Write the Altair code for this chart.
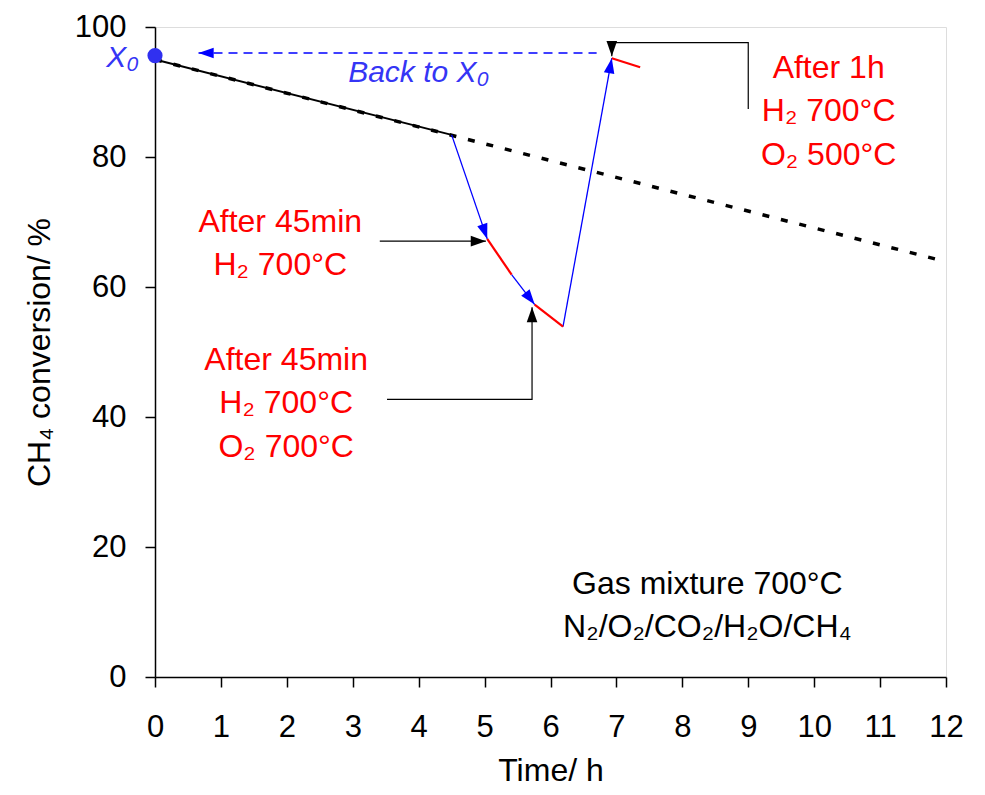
import math
import altair as alt
import pandas as pd

# ---------------- data ----------------
# extrapolated deactivation trend (dashed black)
trend_t = [0.0, 12.0]
trend_x = [95.0, 63.9]
# measured initial deactivation (solid black)
base_t = [0.0, 4.5]
base_x = [95.0, 83.4]
# regeneration path: "step" = jump after a treatment (blue), "run" = operation afterwards (red)
path_t = [4.5, 5.04, 5.41, 5.76, 6.19, 6.93, 7.36]
path_x = [83.4, 67.4, 61.9, 57.3, 53.9, 95.2, 93.8]
path_kind = ["step", "run", "step", "run", "step", "run"]
# initial conversion X0
x0_t = [0.0]
x0_x = [95.6]
# "Back to X0" dashed arrow (start, tip)
back_t = [6.70, 0.66]
back_x = [96.0, 96.0]
# black call-out connectors (polylines, last point = arrow tip)
conn_id = [1, 1, 2, 2, 2, 3, 3, 3, 3]
conn_t = [3.41, 5.02, 3.52, 5.72, 5.72, 9.0, 9.0, 6.93, 6.93]
conn_x = [67.05, 67.05, 42.7, 42.7, 56.9, 87.4, 97.6, 97.6, 95.5]
# red treatment labels
label_text = ["After 45min", "H₂ 700°C",
              "After 45min", "H₂ 700°C", "O₂ 700°C",
              "After 1h", "H₂ 700°C", "O₂ 500°C"]
label_t = [1.90, 1.90, 1.99, 1.99, 1.99, 10.22, 10.22, 10.22]
label_x = [68.5, 61.9, 47.2, 40.6, 33.8, 92.1, 85.5, 78.7]
# gas mixture note
gas_text = ["Gas mixture 700°C", "N₂/O₂/CO₂/H₂O/CH₄"]
gas_t = [8.38, 8.38]
gas_x = [12.8, 6.1]
# blue notes
blue_text = ["X₀", "Back to X₀"]
blue_t = [-0.74, 2.93]
blue_x = [93.9, 91.6]
# axis ticks
x_ticks = list(range(0, 13))
y_ticks = [0, 20, 40, 60, 80, 100]

# ---------------- chart ----------------
W, H = 791, 650
FONT = "Liberation Sans"
BLUE = "#0000FF"
TXT_BLUE = "#3535F5"
RED = "#FF0000"
PX_T = W / 12.0
PX_X = H / 100.0

xs = alt.Scale(domain=[0, 12], nice=False, zero=False)
ys = alt.Scale(domain=[0, 100], nice=False, zero=False)

x_axis = alt.Axis(values=x_ticks, title="Time/ h", grid=False,
                  domainColor="black", domainWidth=1.5, tickColor="black",
                  tickWidth=1.5, tickSize=10, labelFontSize=31, labelFont=FONT,
                  labelColor="black", labelPadding=25, labelFlush=False,
                  labelOverlap=False, titleFontSize=32, titleFont=FONT,
                  titleFontWeight="normal", titleColor="black",
                  titleBaseline="alphabetic", titleY=103)
y_axis = alt.Axis(values=y_ticks, title="CH₄ conversion/ %", grid=False,
                  domainColor="black", domainWidth=1.5, tickColor="black",
                  tickWidth=1.5, tickSize=10, labelFontSize=31, labelFont=FONT,
                  labelColor="black", labelPadding=19, labelFlush=False,
                  labelOverlap=False, titleFontSize=32, titleFont=FONT,
                  titleFontWeight="normal", titleColor="black",
                  titleBaseline="alphabetic", titleAngle=270, titleX=-106)


def X(f="t"):
    return alt.X(f"{f}:Q", scale=xs, axis=x_axis)


def Y(f="v"):
    return alt.Y(f"{f}:Q", scale=ys, axis=y_axis)


def heading(t0, v0, t1, v1):
    vx = (t1 - t0) * PX_T
    vy = -(v1 - v0) * PX_X
    return math.degrees(math.atan2(vx, -vy)) % 360


# data frames
trend_df = pd.DataFrame({"t": trend_t, "v": trend_x})
base_df = pd.DataFrame({"t": base_t, "v": base_x})
seg_df = pd.DataFrame({
    "t": path_t[:-1], "v": path_x[:-1],
    "t2": path_t[1:], "v2": path_x[1:], "kind": path_kind,
})
x0_df = pd.DataFrame({"t": x0_t, "v": x0_x})
back_df = pd.DataFrame({"t": back_t, "v": back_x})
conn_df = pd.DataFrame({"id": conn_id, "t": conn_t, "v": conn_x,
                        "o": list(range(len(conn_id)))})
label_df = pd.DataFrame({"t": label_t, "v": label_x, "txt": label_text})
gas_df = pd.DataFrame({"t": gas_t, "v": gas_x, "txt": gas_text})
blue_df = pd.DataFrame({"t": blue_t, "v": blue_x, "txt": blue_text})

# arrow heads
arr_rows = []
for i in range(len(path_kind)):
    if path_kind[i] == "step":
        arr_rows.append({"t": path_t[i + 1], "v": path_x[i + 1], "c": "blue",
                         "ang": heading(path_t[i], path_x[i], path_t[i + 1], path_x[i + 1])})
arr_rows.append({"t": back_t[1], "v": back_x[1], "c": "blue",
                 "ang": heading(back_t[0], back_x[0], back_t[1], back_x[1])})
for cid in sorted(set(conn_id)):
    pts = [(t, v) for c, t, v in zip(conn_id, conn_t, conn_x) if c == cid]
    (ta, va), (tb, vb) = pts[-2], pts[-1]
    arr_rows.append({"t": tb, "v": vb, "c": "black", "ang": heading(ta, va, tb, vb)})
arr_df = pd.DataFrame(arr_rows)

ARROW = "M0,0L-0.7,2L0.7,2Z"

trend = alt.Chart(trend_df).mark_line(color="black", strokeWidth=3.5,
                                      strokeDash=[7, 12]).encode(x=X(), y=Y())
base = alt.Chart(base_df).mark_line(color="black", strokeWidth=2).encode(x=X(), y=Y())
steps = alt.Chart(seg_df).transform_filter(alt.datum.kind == "step").mark_rule(
    color=BLUE, strokeWidth=1.3).encode(x=X(), y=Y(), x2="t2:Q", y2="v2:Q")
runs = alt.Chart(seg_df).transform_filter(alt.datum.kind == "run").mark_rule(
    color=RED, strokeWidth=2.2).encode(x=X(), y=Y(), x2="t2:Q", y2="v2:Q")
back = alt.Chart(back_df).mark_line(color=BLUE, strokeWidth=1.5,
                                    strokeDash=[9, 6]).encode(x=X(), y=Y())
conn = alt.Chart(conn_df).mark_line(color="black", strokeWidth=1.2).encode(
    x=X(), y=Y(), detail="id:N", order="o:Q")
arrows = alt.Chart(arr_df).mark_point(shape=ARROW, filled=True, opacity=1,
                                      size=230, strokeWidth=0).encode(
    x=X(), y=Y(),
    angle=alt.Angle("ang:Q", scale=None),
    color=alt.Color("c:N", scale=alt.Scale(domain=["blue", "black"],
                                           range=[BLUE, "black"]), legend=None))
x0 = alt.Chart(x0_df).mark_circle(color="#3030F0", size=230, opacity=1).encode(x=X(), y=Y())

labels = alt.Chart(label_df).mark_text(font=FONT, fontSize=32, color=RED,
                                       align="center", baseline="alphabetic").encode(
    x=X(), y=Y(), text="txt:N")
gas = alt.Chart(gas_df).mark_text(font=FONT, fontSize=32, color="black",
                                  align="center", baseline="alphabetic").encode(
    x=X(), y=Y(), text="txt:N")
blue_notes = alt.Chart(blue_df).mark_text(font=FONT, fontSize=30, fontStyle="italic",
                                          color=TXT_BLUE, align="left",
                                          baseline="alphabetic").encode(
    x=X(), y=Y(), text="txt:N")

chart = alt.layer(trend, base, back, conn, steps, runs, arrows, x0,
                  labels, gas, blue_notes).properties(
    width=W, height=H, autosize="none",
    padding={"left": 147, "top": 19, "right": 31, "bottom": 109},
).configure_view(stroke="#7a7a7a", strokeWidth=1.5).configure(background="white")

chart.save("out.html", embed_options={"renderer": "svg", "actions": False})
